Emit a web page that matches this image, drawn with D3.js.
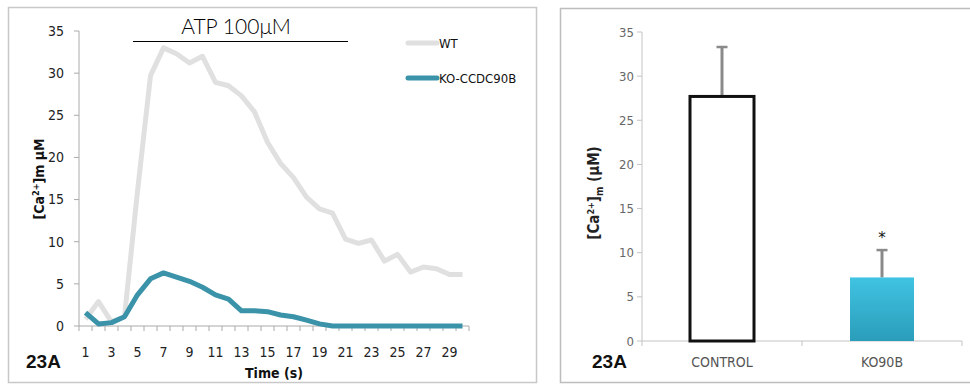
<!DOCTYPE html>
<html>
<head>
<meta charset="utf-8">
<script src="https://cdn.jsdelivr.net/npm/d3@7"></script>
<style>
  body { margin: 0; background: #fff; }
  svg { display: block; }
</style>
</head>
<body>
<div id="chart"></div>
<script>
// time course, left panel
const time = [1, 2, 3, 4, 5, 6, 7, 8, 9, 10, 11, 12, 13, 14, 15, 16, 17, 18, 19, 20, 21, 22, 23, 24, 25, 26, 27, 28, 29, 30];
const wt = [0.8, 2.9, 0.5, 1.1, 16.0, 29.7, 33.0, 32.3, 31.2, 32.0, 28.9, 28.5, 27.3, 25.4, 21.8, 19.3, 17.6, 15.3, 13.9, 13.4, 10.3, 9.8, 10.2, 7.7, 8.5, 6.4, 7.0, 6.8, 6.1, 6.1];
const ko = [1.6, 0.25, 0.4, 1.1, 3.7, 5.6, 6.3, 5.8, 5.3, 4.6, 3.7, 3.2, 1.8, 1.8, 1.7, 1.3, 1.1, 0.7, 0.25, 0, 0, 0, 0, 0, 0, 0, 0, 0, 0, 0];
const yTicks = [0, 5, 10, 15, 20, 25, 30, 35];

// bar chart, right panel
const groups = ['CONTROL', 'KO90B'];
const means = [27.7, 7.2];
const errs = [5.6, 3.1];

const W = 970, H = 385;
const svg = d3.select('#chart').append('svg')
    .attr('width', W).attr('height', H);

svg.append('rect').attr('width', W).attr('height', H).attr('fill', '#fff');

const narrow = '"Liberation Sans Narrow", "DejaVu Sans Condensed", "Roboto Condensed", sans-serif';

// ---------- left panel ----------
svg.append('rect')
    .attr('x', 8.5).attr('y', 7.5).attr('width', 528).attr('height', 375)
    .attr('fill', 'none').attr('stroke', '#c8c8c8').attr('stroke-width', 1.5);

const x = d3.scaleBand().domain(time).range([79, 469]);
const y = d3.scaleLinear().domain([0, 35]).range([326, 31]);

const gx = svg.append('g').attr('transform', 'translate(0,326)');
gx.append('line').attr('x1', 79).attr('x2', 469).attr('stroke', '#aaa');
gx.selectAll('line.tk')
    .data(time.concat(['end']))
    .enter().append('line')
    .attr('class', 'tk')
    .attr('x1', d => d === 'end' ? 469 : x(d))
    .attr('x2', d => d === 'end' ? 469 : x(d))
    .attr('y1', 0).attr('y2', 5)
    .attr('stroke', '#aaa');
gx.selectAll('text')
    .data(time.filter(d => d % 2 === 1))
    .enter().append('text')
    .attr('x', d => x(d) + x.bandwidth() / 2)
    .attr('y', 31)
    .attr('text-anchor', 'middle')
    .style('font-family', narrow).style('font-size', '14px').attr('fill', '#222')
    .text(d => d);

const gy = svg.append('g').attr('transform', 'translate(79,0)');
gy.append('line').attr('y1', y(0)).attr('y2', y(35)).attr('stroke', '#aaa');
gy.selectAll('line.tk')
    .data(yTicks)
    .enter().append('line')
    .attr('class', 'tk')
    .attr('x1', -5).attr('x2', 0)
    .attr('y1', d => y(d)).attr('y2', d => y(d))
    .attr('stroke', '#aaa');
gy.selectAll('text')
    .data(yTicks)
    .enter().append('text')
    .attr('x', -15).attr('y', d => y(d))
    .attr('dy', '0.35em')
    .attr('text-anchor', 'end')
    .style('font-family', narrow).style('font-size', '14px').attr('fill', '#222')
    .text(d => d);

const line = d3.line()
    .x((d, i) => x(time[i]) + x.bandwidth() / 2)
    .y(d => y(d));

svg.append('path').datum(wt)
    .attr('d', line).attr('fill', 'none')
    .attr('stroke', '#e0e0e0').attr('stroke-width', 5).attr('stroke-linejoin', 'round');
svg.append('path').datum(ko)
    .attr('d', line).attr('fill', 'none')
    .attr('stroke', '#3a93a8').attr('stroke-width', 5).attr('stroke-linejoin', 'round');

// ATP bar
svg.append('line').attr('x1', 133).attr('x2', 348).attr('y1', 41.5).attr('y2', 41.5)
    .attr('stroke', '#000').attr('stroke-width', 1);
svg.append('text').attr('x', 236).attr('y', 34).attr('text-anchor', 'middle')
    .style('font-family', 'Lato, "Open Sans", sans-serif').style('font-weight', 300)
    .style('font-size', '21px').attr('fill', '#000')
    .text('ATP 100μM');

// legend
const legend = [{ name: 'WT', color: '#e0e0e0', y: 43 }, { name: 'KO-CCDC90B', color: '#3a93a8', y: 78 }];
const lg = svg.append('g').selectAll('g').data(legend).enter().append('g');
lg.append('line').attr('x1', 408).attr('x2', 437)
    .attr('y1', d => d.y).attr('y2', d => d.y)
    .attr('stroke', d => d.color).attr('stroke-width', 5).attr('stroke-linecap', 'round');
lg.append('text').attr('x', 439).attr('y', d => d.y).attr('dy', '0.38em')
    .style('font-family', narrow).style('font-size', '13px').attr('fill', '#111')
    .text(d => d.name);

// axis titles
svg.append('text').attr('x', 274).attr('y', 378).attr('text-anchor', 'middle')
    .style('font-family', narrow).style('font-size', '14px').style('font-weight', 'bold').attr('fill', '#111')
    .text('Time (s)');
const yl = svg.append('text')
    .attr('transform', 'translate(44,179) rotate(-90)')
    .attr('text-anchor', 'middle')
    .style('font-family', narrow).style('font-size', '14px').style('font-weight', 'bold').attr('fill', '#111');
yl.append('tspan').text('[Ca');
yl.append('tspan').attr('dy', -5).style('font-size', '9px').text('2+');
yl.append('tspan').attr('dy', 5).text(']m μM');

svg.append('text').attr('x', 26).attr('y', 368)
    .style('font-family', '"Liberation Sans", Arial, sans-serif').style('font-size', '19px').style('font-weight', 'bold')
    .attr('fill', '#111').text('23A');

// ---------- right panel ----------
svg.append('rect')
    .attr('x', 560.5).attr('y', 8.5).attr('width', 420).attr('height', 374)
    .attr('fill', 'none').attr('stroke', '#bdbdbd').attr('stroke-width', 1.5);

const xb = d3.scaleBand().domain(groups).range([642, 962]).paddingInner(0.6).paddingOuter(0.3);
const yb = d3.scaleLinear().domain([0, 35]).range([341, 32]);

const defs = svg.append('defs');
const grad = defs.append('linearGradient').attr('id', 'koGrad')
    .attr('x1', 0).attr('x2', 0).attr('y1', 0).attr('y2', 1);
grad.append('stop').attr('offset', '0%').attr('stop-color', '#40c3e2');
grad.append('stop').attr('offset', '100%').attr('stop-color', '#2a9dba');

const rb = svg.append('g');
rb.append('line').attr('x1', 642).attr('x2', 962).attr('y1', 341).attr('y2', 341).attr('stroke', '#c4c4c4');
rb.selectAll('line.xt').data([642, 802, 962]).enter().append('line')
    .attr('class', 'xt')
    .attr('x1', d => d).attr('x2', d => d).attr('y1', 341).attr('y2', 346)
    .attr('stroke', '#c4c4c4');
rb.append('line').attr('x1', 642).attr('x2', 642).attr('y1', yb(0)).attr('y2', yb(35)).attr('stroke', '#c4c4c4');
rb.selectAll('line.yt').data(yTicks).enter().append('line')
    .attr('class', 'yt')
    .attr('x1', 637).attr('x2', 642).attr('y1', d => yb(d)).attr('y2', d => yb(d))
    .attr('stroke', '#c4c4c4');
rb.selectAll('text.yt').data(yTicks).enter().append('text')
    .attr('class', 'yt')
    .attr('x', 634).attr('y', d => yb(d)).attr('dy', '0.35em').attr('text-anchor', 'end')
    .style('font-family', narrow).style('font-size', '13px').attr('fill', '#666')
    .text(d => d);
rb.selectAll('text.xt').data(groups).enter().append('text')
    .attr('class', 'xt')
    .attr('x', d => xb(d) + xb.bandwidth() / 2).attr('y', 367).attr('text-anchor', 'middle')
    .style('font-family', narrow).style('font-size', '14px').attr('fill', '#555')
    .text(d => d);

// error bars first, bars drawn over them
rb.selectAll('g.err').data(groups).enter().append('g')
    .attr('class', 'err')
    .each(function(d, i) {
        const cx = xb(d) + xb.bandwidth() / 2;
        const g = d3.select(this);
        g.append('line').attr('x1', cx).attr('x2', cx)
            .attr('y1', yb(means[i])).attr('y2', yb(means[i] + errs[i]))
            .attr('stroke', '#8a8a8a').attr('stroke-width', 3);
        g.append('line').attr('x1', cx - 5.5).attr('x2', cx + 5.5)
            .attr('y1', yb(means[i] + errs[i])).attr('y2', yb(means[i] + errs[i]))
            .attr('stroke', '#8a8a8a').attr('stroke-width', 2.5);
    });

rb.selectAll('rect.bar').data(groups).enter().append('rect')
    .attr('class', 'bar')
    .attr('x', d => xb(d)).attr('width', xb.bandwidth())
    .attr('y', (d, i) => yb(means[i])).attr('height', (d, i) => yb(0) - yb(means[i]))
    .attr('fill', (d, i) => i === 0 ? '#fff' : 'url(#koGrad)')
    .attr('stroke', (d, i) => i === 0 ? '#111' : 'none')
    .attr('stroke-width', 3);

rb.append('text')
    .attr('x', xb('KO90B') + xb.bandwidth() / 2).attr('y', yb(means[1] + errs[1]) - 7)
    .attr('text-anchor', 'middle')
    .style('font-family', '"DejaVu Sans", sans-serif').style('font-size', '15px').attr('fill', '#111')
    .text('*');

const yl2 = svg.append('text')
    .attr('transform', 'translate(599,193) rotate(-90)')
    .attr('text-anchor', 'middle')
    .style('font-family', narrow).style('font-size', '15px').style('font-weight', 'bold').attr('fill', '#222');
yl2.append('tspan').text('[Ca');
yl2.append('tspan').attr('dy', -5).style('font-size', '9px').text('2+');
yl2.append('tspan').attr('dy', 5).text(']');
yl2.append('tspan').attr('dy', 4).style('font-size', '10px').text('m');
yl2.append('tspan').attr('dy', -4).text(' (μM)');

svg.append('text').attr('x', 592).attr('y', 368)
    .style('font-family', '"Liberation Sans", Arial, sans-serif').style('font-size', '19px').style('font-weight', 'bold')
    .attr('fill', '#111').text('23A');
</script>
</body>
</html>
